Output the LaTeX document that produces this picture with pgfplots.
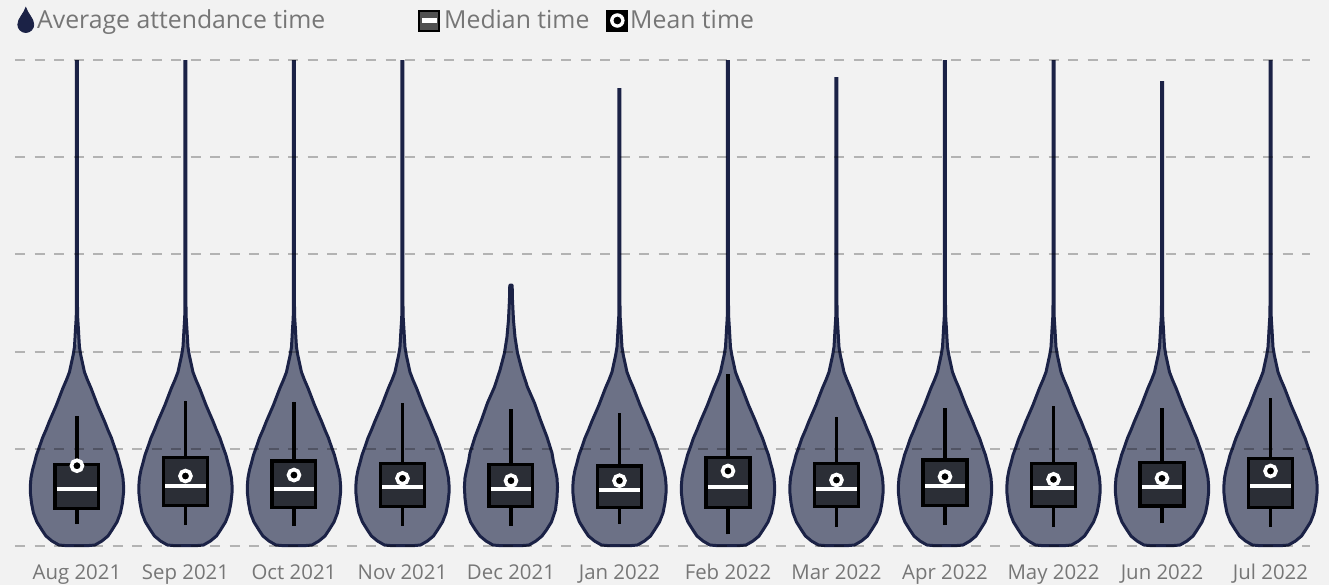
\documentclass[border=0pt]{standalone}
\usepackage{fontspec}
\setmainfont{Open Sans}
\usepackage{pgfplots}
\pgfplotsset{compat=1.18}
\usepackage{pgfplotstable}
\usepgfplotslibrary{statistics}
\definecolor{bgc}{HTML}{F2F2F2}
\definecolor{vfillc}{HTML}{6C7186}
\definecolor{vnavy}{HTML}{1B2246}
\definecolor{boxc}{HTML}{2B2E36}
\definecolor{txtc}{HTML}{767676}
\definecolor{legbox}{HTML}{505050}

% violin outline: y (minutes), w (signed half width in category units);
% right side upwards, then left side downwards
\pgfplotstableread{
y w
0.05 0
0.05 0.111
0.10 0.166
0.51 0.230
1.03 0.286
1.65 0.323
2.47 0.369
3.40 0.401
4.42 0.419
5.45 0.429
6.28 0.429
7.00 0.424
7.82 0.410
8.54 0.392
9.36 0.373
10.19 0.346
11.11 0.318
11.93 0.286
12.86 0.253
13.68 0.221
14.51 0.189
15.33 0.161
16.26 0.129
17.08 0.097
17.90 0.069
18.83 0.051
19.65 0.035
20.47 0.023
21.40 0.018
22.22 0.014
23.46 0.007
24.79 0.0046
47.12 0.0046
47.84 0.0046
48.25 0.0046
50.00 0.0046
60.00 0.0046
60.00 -0.0046
50.00 -0.0046
48.25 -0.0046
47.84 -0.0046
47.12 -0.0046
24.79 -0.0046
23.46 -0.007
22.22 -0.014
21.40 -0.018
20.47 -0.023
19.65 -0.035
18.83 -0.051
17.90 -0.069
17.08 -0.097
16.26 -0.129
15.33 -0.161
14.51 -0.189
13.68 -0.221
12.86 -0.253
11.93 -0.286
11.11 -0.318
10.19 -0.346
9.36 -0.373
8.54 -0.392
7.82 -0.410
7.00 -0.424
6.28 -0.429
5.45 -0.429
4.42 -0.419
3.40 -0.401
2.47 -0.369
1.65 -0.323
1.03 -0.286
0.51 -0.230
0.10 -0.166
0.05 -0.111
0.05 0
}\profA

\pgfplotstableread{
y w
0.05 0
0.05 0.111
0.10 0.166
0.51 0.230
1.03 0.286
1.65 0.327
2.47 0.373
3.70 0.410
4.94 0.424
6.07 0.429
7.00 0.424
7.82 0.410
8.64 0.392
9.57 0.378
11.21 0.332
12.96 0.272
14.71 0.217
16.36 0.152
18.11 0.101
19.86 0.060
21.50 0.037
23.25 0.023
25.31 0.014
26.85 0.011
26.85 -0.011
25.31 -0.014
23.25 -0.023
21.50 -0.037
19.86 -0.060
18.11 -0.101
16.36 -0.152
14.71 -0.217
12.96 -0.272
11.21 -0.332
9.57 -0.378
8.64 -0.392
7.82 -0.410
7.00 -0.424
6.07 -0.429
4.94 -0.424
3.70 -0.410
2.47 -0.373
1.65 -0.327
1.03 -0.286
0.51 -0.230
0.10 -0.166
0.05 -0.111
0.05 0
}\profD

\newcommand{\violin}[3]{%
  \addplot[vln, restrict y to domain=0:#3] table[x expr=#1+\thisrow{w}, y=y] {#2};
}
\newcommand{\bx}[7]{%
  \addplot[bxs, boxplot prepared={draw position=#1, lower whisker=#2, lower quartile=#3, median=#4, upper quartile=#5, upper whisker=#6, average=#7}] coordinates {};
}

\begin{document}
\begin{tikzpicture}
\fill[bgc] (-7.5pt,-19.5pt) rectangle (657pt,273pt);
\begin{axis}[
  at={(0,0)}, anchor=south west,
  scale only axis, width=647.5pt, height=243pt,
  xmin=-0.571, xmax=11.364, ymin=0, ymax=50,
  clip=false,
  axis on top,
  axis line style={draw=none},
  major tick length=0pt,
  xtick={0,...,11},
  xticklabels={Aug 2021,Sep 2021,Oct 2021,Nov 2021,Dec 2021,Jan 2022,Feb 2022,Mar 2022,Apr 2022,May 2022,Jun 2022,Jul 2022},
  ytick={0,10,...,50}, yticklabels={},
  ymajorgrids,
  major grid style={draw=black, opacity=0.26, line width=1pt, dash pattern=on 5pt off 4.75pt},
  xticklabel style={font=\fontsize{10.2}{12}\selectfont, text=txtc, inner sep=0pt, anchor=north, text height=7.6pt, yshift=-9pt},
  legend style={at={(axis description cs:0.00154,1.0823)}, anchor=west, draw=none, fill=none, inner sep=0pt, column sep=0pt,
     font=\fontsize{12.4}{14}\selectfont, text=txtc, nodes={inner sep=0pt, text=txtc}},
  legend columns=3,
  vln/.style={draw=vnavy, fill=vfillc, line width=1.5pt, line join=round, forget plot},
  bxs/.style={forget plot, draw=black, fill=boxc, line width=1.65pt},
  boxplot/draw direction=y,
  boxplot/box extend=0.403,
  boxplot/draw/median/.code={\draw[white, line width=2pt] (boxplot box cs:\pgfplotsboxplotvalue{median},0.04) -- (boxplot box cs:\pgfplotsboxplotvalue{median},0.96);},
  boxplot/draw/average/.code={\draw[white, line width=1.8pt, fill=black] (boxplot box cs:\pgfplotsboxplotvalue{average},0.5) circle[radius=2.75pt];},
  boxplot/draw/lower whisker/.code={\draw[black, line width=1.65pt] (boxplot cs:\pgfplotsboxplotvalue{lower whisker}) -- (boxplot cs:\pgfplotsboxplotvalue{lower quartile});},
  boxplot/draw/upper whisker/.code={\draw[black, line width=1.65pt] (boxplot cs:\pgfplotsboxplotvalue{upper quartile}) -- (boxplot cs:\pgfplotsboxplotvalue{upper whisker});},
]
\violin{0}{\profA}{50.01}
\violin{1}{\profA}{50.01}
\violin{2}{\profA}{50.01}
\violin{3}{\profA}{50.01}
\violin{4}{\profD}{50.01}
\violin{5}{\profA}{47.13}
\violin{6}{\profA}{50.01}
\violin{7}{\profA}{48.26}
\violin{8}{\profA}{50.01}
\violin{9}{\profA}{50.01}
\violin{10}{\profA}{47.85}
\violin{11}{\profA}{50.01}

\bx{0}{2.26}{3.88}{5.86}{8.40}{13.37}{8.26}
\bx{1}{2.16}{4.15}{6.20}{9.09}{14.95}{7.20}
\bx{2}{2.06}{3.94}{5.86}{8.75}{14.85}{7.30}
\bx{3}{2.09}{4.05}{6.10}{8.51}{14.68}{6.96}
\bx{4}{2.06}{4.05}{5.83}{8.40}{14.06}{6.72}
\bx{5}{2.26}{3.94}{5.76}{8.23}{13.65}{6.72}
\bx{6}{1.20}{3.94}{6.10}{9.12}{17.66}{7.72}
\bx{7}{1.99}{4.05}{5.90}{8.51}{13.30}{6.79}
\bx{8}{2.16}{4.15}{6.17}{8.85}{14.16}{7.13}
\bx{9}{1.99}{4.05}{6.00}{8.51}{14.40}{6.86}
\bx{10}{2.33}{4.11}{6.10}{8.58}{14.16}{6.96}
\bx{11}{1.99}{3.94}{6.20}{9.02}{15.19}{7.72}

\addlegendimage{legend image code/.code={
  \fill[vnavy] (4pt,6.5pt) .. controls (3.2pt,3.5pt) and (0pt,1pt) .. (0pt,-2pt)
     arc[start angle=180,end angle=360,radius=4pt] .. controls (8pt,1pt) and (4.8pt,3.5pt) .. cycle;
  \path (9.5pt,0);}}
\addlegendentry{Average attendance time\hspace*{46.5pt}}
\addlegendimage{legend image code/.code={
  \fill[black] (0pt,-5.25pt) rectangle (10.5pt,5.25pt);
  \fill[legbox] (1pt,-4.25pt) rectangle (9.5pt,4.25pt);
  \fill[white] (1.6pt,-0.9pt) rectangle (8.9pt,0.9pt);
  \path (12.5pt,0);}}
\addlegendentry{Median time\hspace*{8.5pt}}
\addlegendimage{legend image code/.code={
  \fill[black] (0pt,-5.25pt) rectangle (10.5pt,5.25pt);
  \fill[white] (5.25pt,0pt) circle[radius=3.4pt];
  \fill[black] (5.25pt,0pt) circle[radius=1.7pt];
  \path (11.5pt,0);}}
\addlegendentry{Mean time}
\end{axis}
\pgfresetboundingbox
\path (-7.5pt,-19.5pt) rectangle (657pt,273pt);
\end{tikzpicture}
\end{document}
